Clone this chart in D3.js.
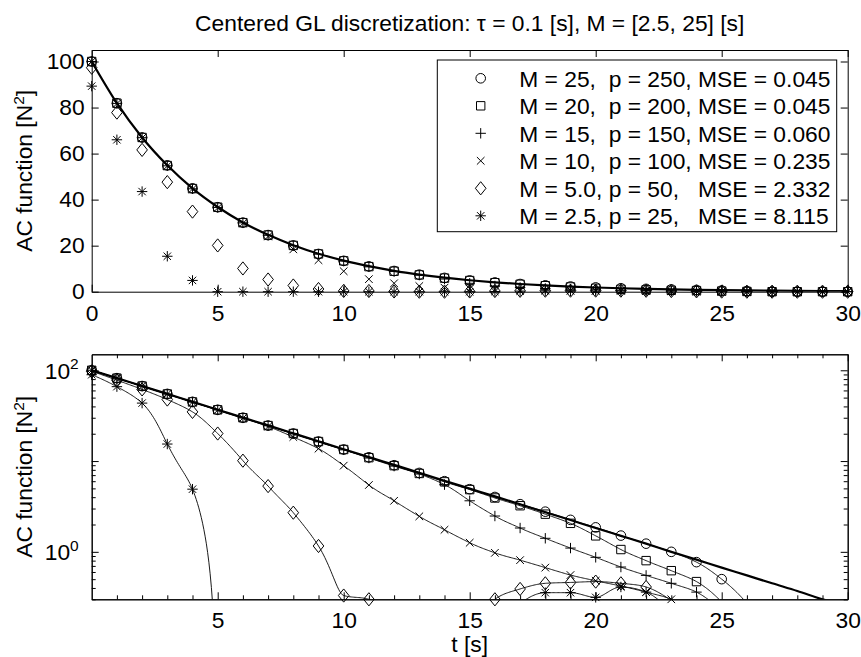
<!DOCTYPE html>
<html><head><meta charset="utf-8">
<script src="https://cdn.jsdelivr.net/npm/d3@7"></script>
<style>
body{margin:0;background:#fff}
svg text{font-family:"Liberation Sans",Arial,Helvetica,sans-serif;fill:#000}
</style>
</head><body>
<svg id="c" width="861" height="657" xmlns="http://www.w3.org/2000/svg"></svg>
<script>
// ---------------- data ----------------
const lagT   = [0,1,2,3,4,5,6,7,8,9,10,11,12,13,14,15,16,17,18,19,20,21,22,23,24,25,26,27,28,29,30];
const acTrue = [100,81.9,67.0,54.9,44.9,36.8,30.1,24.7,20.2,16.5,13.5,11.1,9.07,7.43,6.08,4.98,4.08,3.34,2.73,2.24,1.83,1.50,1.23,1.00,0.82,0.67,0.55,0.45,0.37,0.30,0.25];
const acM25  = [100,81.9,67.0,54.9,44.9,36.7,30.0,24.6,20.1,16.4,13.4,11.0,9.0,7.4,6.0,4.9,4.02,3.35,2.77,2.25,1.86,1.51,1.23,1.0,0.77,0.50,0.27,0.08,0.0,0.0,0.0];
const acM20  = [100,81.9,67.0,54.8,44.8,36.7,30.0,24.6,20.1,16.4,13.4,10.9,8.9,7.3,5.9,4.85,3.92,3.22,2.6,2.06,1.5,1.06,0.80,0.62,0.47,0.28,0.1,0.0,0.0,0.0,0.0];
const acM15  = [100,81.8,66.9,54.7,44.7,36.6,29.9,24.5,20.0,16.3,13.3,10.8,8.8,7.2,5.5,3.65,2.48,1.83,1.41,1.1,0.87,0.68,0.55,0.45,0.36,0.22,0.08,0.0,0.0,0.0,0.0];
const acM10  = [100,81.7,66.8,54.6,44.6,36.4,29.7,24.0,18.4,13.7,8.9,5.45,3.65,2.46,1.75,1.26,0.975,0.81,0.67,0.555,0.48,0.42,0.36,0.30,0.2,0.1,0.0,0.0,0.0,0.0,0.0];
const acM5   = [97.3,77.8,61.6,47.6,34.8,20.1,10.1,5.3,2.7,1.16,0.33,0.30,0.1,0.0,0.0,0.1,0.30,0.39,0.45,0.46,0.47,0.45,0.41,0.29,0.15,0.05,0.0,0.0,0.0,0.0,0.0];
const acM2p5 = [89.3,66.0,43.5,15.4,4.9,0.0,0.0,0.0,0.0,0.0,0.0,0.0,0.0,0.0,0.0,0.0,0.1,0.27,0.355,0.355,0.315,0.41,0.36,0.22,0.1,0.0,0.0,0.0,0.0,0.0,0.0];

const legendLabels = [
  "M = 25,  p = 250, MSE = 0.045",
  "M = 20,  p = 200, MSE = 0.045",
  "M = 15,  p = 150, MSE = 0.060",
  "M = 10,  p = 100, MSE = 0.235",
  "M = 5.0, p = 50,   MSE = 2.332",
  "M = 2.5, p = 25,   MSE = 8.115"
];
const markerKinds = ["circle","square","plus","cross","diamond","star"];
const seriesValues = [acM25, acM20, acM15, acM10, acM5, acM2p5];

const titleText = "Centered GL discretization: \u03C4 = 0.1 [s], M = [2.5, 25] [s]";
const topXTicks = [0,5,10,15,20,25,30];
const topYTicks = [0,20,40,60,80,100];
const botXTicks = [5,10,15,20,25,30];
const botXMinor = [1,2,3,4,6,7,8,9,11,12,13,14,16,17,18,19,21,22,23,24,26,27,28,29];
const botYMajor = [1,10,100];
const botYLabelled = [1,100];
const botYMinor = [0.3,0.4,0.5,0.6,0.7,0.8,0.9,2,3,4,5,6,7,8,9,20,30,40,50,60,70,80,90];

// ---------------- layout ----------------
const FS = 22.8;
const L = 91.7, R = 847.7;
const topP = {t:50, b:291.7};
const botP = {t:354.3, b:599.3};

const svg = d3.select("#c");
svg.append("rect").attr("width",861).attr("height",657).attr("fill","#fff");

const xTop = d3.scaleLinear().domain([0,30]).range([L,R]);
const yTop = d3.scaleLinear().domain([0,105]).range([topP.b, topP.t]);
const xBot = d3.scaleLinear().domain([0,30]).range([L,R]);
const yBot = d3.scaleLog().domain([0.3,150]).range([botP.b, botP.t]);

const defs = svg.append("defs");
defs.append("clipPath").attr("id","clipTop").append("rect")
  .attr("x",L).attr("y",topP.t).attr("width",R-L).attr("height",topP.b-topP.t);
defs.append("clipPath").attr("id","clipBot").append("rect")
  .attr("x",L).attr("y",botP.t).attr("width",R-L).attr("height",botP.b-botP.t);

// marker shapes
function markerPath(kind){
  switch(kind){
    case "circle": { const r=4.8; return `M${r},0A${r},${r} 0 1,1 ${-r},0A${r},${r} 0 1,1 ${r},0Z`; }
    case "square": { const s=4.2; return `M${-s},${-s}H${s}V${s}H${-s}Z`; }
    case "plus":   { const a=5.2; return `M${-a},0H${a}M0,${-a}V${a}`; }
    case "cross":  { const a=3.8; return `M${-a},${-a}L${a},${a}M${-a},${a}L${a},${-a}`; }
    case "diamond":{ const w=5.3,h=6.6; return `M0,${-h}L${w},0L0,${h}L${-w},0Z`; }
    case "star":   { const a=5.2,b=3.7; return `M${-a},0H${a}M0,${-a}V${a}M${-b},${-b}L${b},${b}M${-b},${b}L${b},${-b}`; }
  }
}

// smooth rendering of a series in value space (monotone cubic, like d3.curveMonotoneX)
function smoothSamples(ts, vs, step){
  const n = ts.length, s = [], m = [];
  for(let i=0;i<n-1;i++) s.push((vs[i+1]-vs[i])/(ts[i+1]-ts[i]));
  for(let i=0;i<n;i++){
    if(i===0) m.push(s[0]);
    else if(i===n-1) m.push(s[n-2]);
    else {
      const s0=s[i-1], s1=s[i], p=(s0+s1)/2;
      m.push((Math.sign(s0)+Math.sign(s1))*Math.min(Math.abs(s0),Math.abs(s1),0.5*Math.abs(p)) || 0);
    }
  }
  const out=[];
  for(let i=0;i<n-1;i++){
    const h=ts[i+1]-ts[i];
    const k = Math.round(h/step);
    for(let j=0;j<k;j++){
      const u=j/k, u2=u*u, u3=u2*u;
      const v=(2*u3-3*u2+1)*vs[i]+(u3-2*u2+u)*h*m[i]+(-2*u3+3*u2)*vs[i+1]+(u3-u2)*h*m[i+1];
      out.push({t:ts[i]+u*h, v:v});
    }
  }
  out.push({t:ts[n-1], v:vs[n-1]});
  return out;
}

function styleAxis(g){
  g.selectAll("path.domain").attr("stroke","#000").attr("stroke-width",1);
  g.selectAll(".tick line").attr("stroke","#000").attr("stroke-width",1);
  g.selectAll("text").attr("font-size",FS).attr("font-family",null).attr("fill","#000");
  g.attr("font-family",null).attr("font-size",null);
}

// ---------------- top panel ----------------
const gT = svg.append("g");
gT.append("g").attr("transform",`translate(0,${topP.b})`)
  .call(d3.axisBottom(xTop).tickValues(topXTicks).tickSizeInner(-7).tickSizeOuter(0).tickPadding(13)).call(styleAxis);
gT.append("g").attr("transform",`translate(0,${topP.t})`)
  .call(d3.axisTop(xTop).tickValues(topXTicks).tickSizeInner(-7).tickSizeOuter(0).tickFormat("")).call(styleAxis);
gT.append("g").attr("transform",`translate(${L},0)`)
  .call(d3.axisLeft(yTop).tickValues(topYTicks).tickSizeInner(-7).tickSizeOuter(0).tickPadding(7)).call(styleAxis);
gT.append("g").attr("transform",`translate(${R},0)`)
  .call(d3.axisRight(yTop).tickValues(topYTicks).tickSizeInner(-7).tickSizeOuter(0).tickFormat("")).call(styleAxis);

const trueRows = lagT.map((t,i)=>({t:t, v:acTrue[i]}));
gT.append("path").datum(trueRows).attr("clip-path","url(#clipTop)")
  .attr("fill","none").attr("stroke","#000").attr("stroke-width",2.2)
  .attr("d", d3.line().x(d=>xTop(d.t)).y(d=>yTop(d.v)).curve(d3.curveMonotoneX));

seriesValues.forEach((vals,k)=>{
  gT.append("g").selectAll("path").data(lagT.map((t,i)=>({t:t,v:vals[i]}))).join("path")
    .attr("transform",d=>`translate(${xTop(d.t)},${yTop(Math.max(0,d.v))})`)
    .attr("d",markerPath(markerKinds[k])).attr("fill","none").attr("stroke","#000").attr("stroke-width",1);
});

// legend
const legG = svg.append("g");
legG.append("rect").attr("x",437.3).attr("y",60).attr("width",399.4).attr("height",171.7)
  .attr("fill","#fff").attr("stroke","#000").attr("stroke-width",1);
legendLabels.forEach((lab,k)=>{
  const cy = 78.3 + k*27.5;
  legG.append("path").attr("transform",`translate(480.7,${cy})`).attr("d",markerPath(markerKinds[k]))
    .attr("fill","none").attr("stroke","#000").attr("stroke-width",1);
  legG.append("text").attr("x",519.3).attr("y",cy+8.2).attr("font-size",FS)
    .attr("xml:space","preserve").style("white-space","pre").text(lab);
});

// labels top
svg.append("text").attr("x",(L+R)/2).attr("y",30.5).attr("text-anchor","middle").attr("font-size",FS).text(titleText);
function yLabel(cy){
  const t = svg.append("text").attr("transform",`translate(32,${cy}) rotate(-90)`).attr("text-anchor","middle").attr("font-size",FS);
  t.append("tspan").text("AC function [N");
  t.append("tspan").attr("font-size",15.5).attr("dy",-8).text("2");
  t.append("tspan").attr("dy",8).text("]");
}
yLabel((topP.t+topP.b)/2);

// ---------------- bottom panel ----------------
const gB = svg.append("g");
gB.append("g").attr("transform",`translate(0,${botP.b})`)
  .call(d3.axisBottom(xBot).tickValues(botXMinor).tickSizeInner(-4).tickSizeOuter(0).tickFormat("")).call(styleAxis);
gB.append("g").attr("transform",`translate(0,${botP.b})`)
  .call(d3.axisBottom(xBot).tickValues(botXTicks).tickSizeInner(-7).tickSizeOuter(0).tickPadding(13).tickFormat(d3.format("d"))).call(styleAxis);
gB.append("g").attr("transform",`translate(0,${botP.t})`)
  .call(d3.axisTop(xBot).tickValues(botXMinor).tickSizeInner(-4).tickSizeOuter(0).tickFormat("")).call(styleAxis);
gB.append("g").attr("transform",`translate(0,${botP.t})`)
  .call(d3.axisTop(xBot).tickValues(botXTicks).tickSizeInner(-7).tickSizeOuter(0).tickFormat("")).call(styleAxis);
gB.append("g").attr("transform",`translate(${L},0)`)
  .call(d3.axisLeft(yBot).tickValues(botYMinor).tickSizeInner(-4).tickSizeOuter(0).tickFormat("")).call(styleAxis);
gB.append("g").attr("transform",`translate(${L},0)`)
  .call(d3.axisLeft(yBot).tickValues(botYMajor).tickSizeInner(-7).tickSizeOuter(0).tickFormat("")).call(styleAxis);
gB.append("g").attr("transform",`translate(${R},0)`)
  .call(d3.axisRight(yBot).tickValues(botYMinor).tickSizeInner(-4).tickSizeOuter(0).tickFormat("")).call(styleAxis);
gB.append("g").attr("transform",`translate(${R},0)`)
  .call(d3.axisRight(yBot).tickValues(botYMajor).tickSizeInner(-7).tickSizeOuter(0).tickFormat("")).call(styleAxis);

// log tick labels 10^n
botYLabelled.forEach(v=>{
  const t = gB.append("text").attr("x",L-13).attr("y",yBot(v)+8.5).attr("text-anchor","end").attr("font-size",FS);
  t.append("tspan").text("10");
  t.append("tspan").attr("font-size",15.5).attr("dy",-9.5).text(String(Math.round(Math.log10(v))));
});

// thin lines
const lineLog = d3.line().defined(d=>d.v>0).x(d=>xBot(d.t)).y(d=>yBot(Math.max(d.v,0.02)));
seriesValues.forEach(vals=>{
  gB.append("path").datum(smoothSamples(lagT, vals, 0.05)).attr("clip-path","url(#clipBot)")
    .attr("fill","none").attr("stroke","#000").attr("stroke-width",0.9).attr("d",lineLog);
});
// thick true line
gB.append("path").datum(trueRows).attr("clip-path","url(#clipBot)")
  .attr("fill","none").attr("stroke","#000").attr("stroke-width",2.2)
  .attr("d", d3.line().x(d=>xBot(d.t)).y(d=>yBot(d.v)).curve(d3.curveMonotoneX));
// markers within limits
seriesValues.forEach((vals,k)=>{
  const rows = lagT.map((t,i)=>({t:t,v:vals[i]})).filter(d=>d.v>=0.295 && d.v<=150);
  gB.append("g").selectAll("path").data(rows).join("path")
    .attr("transform",d=>`translate(${xBot(d.t)},${yBot(d.v)})`)
    .attr("d",markerPath(markerKinds[k])).attr("fill","none").attr("stroke","#000").attr("stroke-width",1);
});

yLabel((botP.t+botP.b)/2);
svg.append("text").attr("x",(L+R)/2).attr("y",652).attr("text-anchor","middle").attr("font-size",FS).text("t [s]");
</script>
</body></html>
